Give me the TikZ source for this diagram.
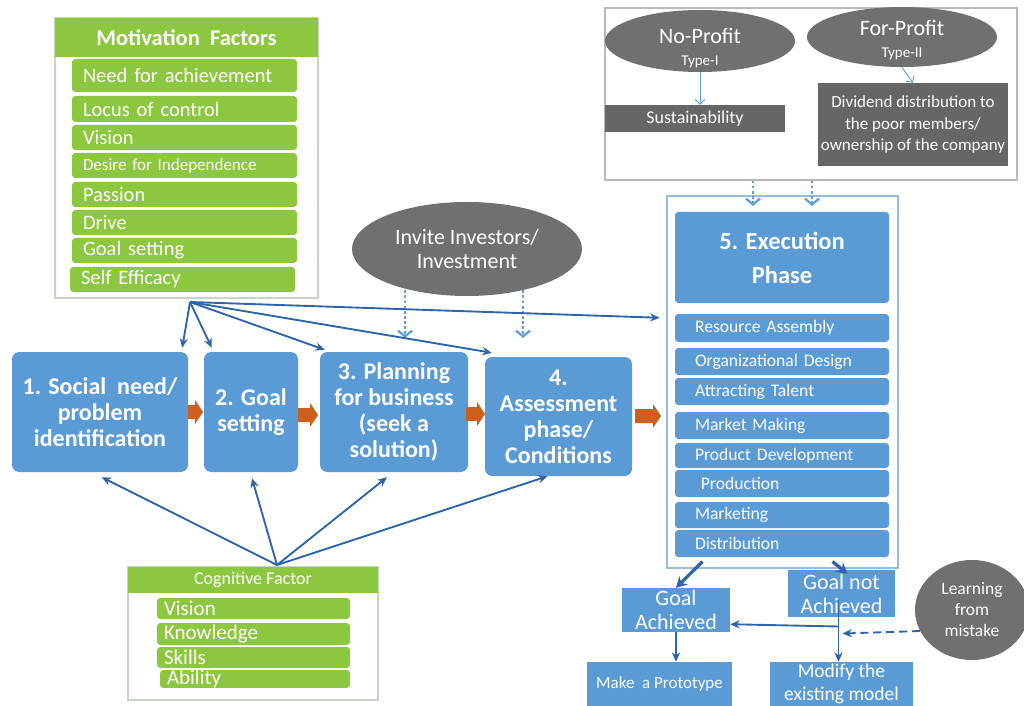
\documentclass[tikz,border=0pt]{standalone}
\usepackage{fontspec}
\setmainfont{Carlito}
\usetikzlibrary{arrows.meta,shapes.geometric,calc,backgrounds}
\definecolor{cblue}{RGB}{91,155,213}
\definecolor{cgreen}{RGB}{141,198,63}
\definecolor{cgray}{RGB}{112,112,112}
\definecolor{cdgray}{RGB}{102,102,102}
\definecolor{carrow}{RGB}{46,100,170}
\definecolor{corange}{RGB}{205,95,30}
\definecolor{cdot}{RGB}{100,160,215}
\definecolor{cgborder}{RGB}{200,212,195}
\definecolor{cbborder}{RGB}{155,187,220}
\definecolor{cgrborder}{RGB}{185,185,185}
\newdimen\pxu \pxu=0.03cm
\newdimen\tmpw
\newcommand\fs[2]{\fontsize{\fpeval{#1*0.8536}}{\fpeval{#2*0.8536}}\selectfont}
\newcommand\R[7]{\node[#1, minimum width={(#5-#3)*\pxu}, minimum height={(#6-#4)*\pxu}] (#2) at ({(#3+#5)/2},{(#4+#6)/2}) {#7};}
\newcommand\Li[8]{\pgfmathsetlength\tmpw{(#5-#3-2*#8)*\pxu}%
\node[#1, text width=\tmpw, align=left, minimum width={(#5-#3)*\pxu}, minimum height={(#6-#4)*\pxu}] (#2) at ({(#3+#5)/2},{(#4+#6)/2}) {#7};}
\newcommand\oarr[3]{\fill[corange] (#1,#3-7) -- (#2-8,#3-7) -- (#2-8,#3-12) -- (#2,#3) -- (#2-8,#3+12) -- (#2-8,#3+7) -- (#1,#3+7) -- cycle;}
\begin{document}
\begin{tikzpicture}[x=0.03cm,y=-0.03cm,
  every node/.style={text=white, inner sep=0pt},
  gouter/.style={draw=cgborder, line width=0.9pt, fill=white},
  bouter/.style={draw=cbborder, line width=0.9pt, fill=white},
  grouter/.style={draw=cgrborder, line width=0.9pt, fill=white},
  ghead/.style={fill=cgreen},
  mitem/.style={fill=cgreen, rounded corners=0.1cm},
  eitem/.style={fill=cblue, rounded corners=0.1cm},
  bbox/.style={fill=cblue, rounded corners=0.22cm, align=center},
  sbox/.style={fill=cblue, align=center},
  gbox/.style={fill=cdgray},
  gell/.style={ellipse, fill=cgray, align=center},
  conn/.style={draw=carrow, line width=1.6pt, -{Stealth[length=8pt,width=7pt]}},
  thickarr/.style={draw=carrow, line width=2.8pt, -{Stealth[length=9pt,width=10pt]}},
  thinarr/.style={draw=cdot, line width=0.8pt, -{Straight Barb[length=4pt,width=8pt]}},
  dotarr/.style={draw=cdot, line width=2.4pt, dotted, -{Straight Barb[length=5pt,width=12pt,line width=2pt]}}]
\useasboundingbox (0,0) rectangle (1024,706);
\begin{pgfonlayer}{background}
\fill[white] (0,0) rectangle (1024,706);
\end{pgfonlayer}
% Motivation factors
\R{gouter}{mfout}{55}{18}{318}{298}{}
\R{ghead,font=\fs{22.5}{26}\bfseries}{mfhead}{55}{18}{318}{57}{Motivation\ \ Factors}
\Li{mitem,font=\fs{20.5}{23}}{m1}{72}{59}{297}{92}{Need for achievement}{11}
\Li{mitem,font=\fs{20.5}{23}}{m2}{72}{96}{297}{122}{Locus of control}{11}
\Li{mitem,font=\fs{20.5}{23}}{m3}{72}{125}{297}{150}{Vision}{11}
\Li{mitem,font=\fs{17}{19}}{m4}{72}{153}{297}{178}{Desire for Independence}{11}
\Li{mitem,font=\fs{20.5}{23}}{m5}{72}{182}{297}{207}{Passion}{11}
\Li{mitem,font=\fs{20.5}{23}}{m6}{72}{210}{297}{235}{Drive}{11}
\Li{mitem,font=\fs{20.5}{23}}{m7}{72}{238}{297}{263}{Goal setting}{11}
\Li{mitem,font=\fs{20.5}{23}}{m8}{70}{267}{295}{292}{Self Efficacy}{11}
% Top right
\R{grouter}{trout}{605}{8}{1017}{180}{}
\node[gell, minimum width={190*\pxu}, minimum height={62*\pxu},
  label={[font=\fs{22}{22}, text=white, align=center, yshift=-0.2cm]center:No-Profit\\{\fs{15}{17}Type-I}}] (np) at (700,41) {};
\node[gell, minimum width={190*\pxu}, minimum height={60*\pxu},
  label={[font=\fs{22}{22}, text=white, align=center, yshift=-0.09cm]center:For-Profit\\{\fs{15}{17}Type-II}}] (fp) at (902,37) {};
\R{gbox,font=\fs{18}{20}}{sust}{605}{105}{785}{132}{Sustainability}
\R{gbox,font=\fs{17}{21.5},align=center}{div}{818}{83}{1008}{166}{Dividend distribution to\\the poor members/\\ownership of the company}
\draw[thinarr] (np.south) -- (np.south |- sust.north);
\draw[thinarr] (fp.south) -- (div.north);
% Execution
\R{bouter}{execout}{667}{196}{898}{568}{}
\R{eitem,font=\fs{24.5}{34}\bfseries,align=center}{exhead}{675}{212}{889}{303}{5. Execution\\Phase}
\Li{eitem,font=\fs{17.6}{19}}{e1}{675}{314}{889}{342}{Resource Assembly}{20}
\Li{eitem,font=\fs{17.6}{19}}{e2}{675}{348}{889}{375}{Organizational Design}{20}
\Li{eitem,font=\fs{17.6}{19}}{e3}{675}{378}{889}{405}{Attracting Talent}{20}
\Li{eitem,font=\fs{17.6}{19}}{e4}{675}{412}{889}{439}{Market Making}{20}
\Li{eitem,font=\fs{17.6}{19}}{e5}{675}{443}{889}{468}{Product Development}{20}
\Li{eitem,font=\fs{17.6}{19}}{e6}{675}{470}{889}{497}{\ Production}{20}
\Li{eitem,font=\fs{17.6}{19}}{e7}{675}{502}{889}{528}{Marketing}{20}
\Li{eitem,font=\fs{17.6}{19}}{e8}{675}{530}{889}{557}{Distribution}{20}
\coordinate (t1) at (753,206);
\coordinate (t2) at (812,206);
\draw[dotarr] (t1 |- trout.south) -- (t1);
\draw[dotarr] (t2 |- trout.south) -- (t2);
% Main boxes
\R{bbox,font=\fs{24}{26}\bfseries}{b1}{12}{352}{188}{472}{1. Social\ \ need/\\problem\\identification}
\R{bbox,font=\fs{24}{26}\bfseries}{b2}{204}{352}{298}{472}{2. Goal\\setting}
\R{bbox,font=\fs{24}{26}\bfseries}{b3}{320}{352}{468}{472}{3. Planning\\for business\\(seek a\\solution)}
\R{bbox,font=\fs{24}{26}\bfseries}{b4}{485}{357}{632}{476}{4.\\Assessment\\phase/\\Conditions}
\oarr{188}{203}{412}
\oarr{298}{318}{415}
\oarr{466}{485}{414}
\oarr{635}{661}{416}
% Invite
\node[gell, minimum width={230*\pxu}, minimum height={94*\pxu}, font=\fs{22}{24}] (inv) at (467,249) {Invite Investors/\\Investment};
\coordinate (d1) at (405,338);
\coordinate (d2) at (523,338);
\begin{pgfonlayer}{background}
\draw[dotarr] (d1 |- inv.center) -- (d1);
\draw[dotarr] (d2 |- inv.center) -- (d2);
\end{pgfonlayer}
% Cognitive
\R{gouter}{cgout}{128}{567}{378}{700}{}
\R{ghead,font=\fs{18}{20}}{cghead}{128}{567}{378}{593}{Cognitive Factor}
\Li{mitem,font=\fs{21}{22}}{c1}{157}{598}{350}{619}{Vision}{7}
\Li{mitem,font=\fs{21}{22}}{c2}{157}{623}{350}{645}{Knowledge}{7}
\Li{mitem,font=\fs{21}{22}}{c3}{157}{647}{350}{668}{Skills}{7}
\Li{mitem,font=\fs{21}{22}}{c4}{160}{671}{350}{687}{Ability}{7}
% Bottom right
\R{sbox,font=\fs{22}{24}}{ga}{622}{588}{730}{632}{Goal\\Achieved}
\R{sbox,font=\fs{22}{24}}{gna}{788}{570}{895}{617}{Goal not\\Achieved}
\R{sbox,font=\fs{17}{18}}{proto}{587}{662}{732}{706}{Make\ \ a Prototype}
\R{sbox,font=\fs{19.5}{23}}{mod}{770}{662}{913}{706}{Modify the\\existing model}
\node[gell, minimum width={114*\pxu}, minimum height={100*\pxu}, font=\fs{17.5}{21}] (learn) at (972,610) {Learning\\from\\mistake};
% Motivation fan
\coordinate (mfsrc) at (190,302);
\draw[conn] (mfsrc) -- ($(b1.north east)+(-6,-4)$);
\draw[conn] (mfsrc) -- ($(b2.north west)+(8,-4)$);
\draw[conn] (mfsrc) -- ($(b3.north west)+(5,-2)$);
\draw[conn] (mfsrc) -- ($(b4.north west)+(7,-4)$);
\draw[conn] (mfsrc) -- ($(execout.west |- e1.north)+(-7,4)$);
% Cognitive fan
\coordinate (cgsrc) at (277,565);
\draw[conn] (cgsrc) -- ($(b1.south west)+(90,5)$);
\draw[conn] (cgsrc) -- ($(b2.south)+(1,6)$);
\draw[conn] (cgsrc) -- ($(b3.south)+(-7,5)$);
\draw[conn] (cgsrc) -- ($(b4.south)+(-11,0)$);
% Bottom connectors
\draw[thickarr] ($(execout.south west)+(36,-7)$) -- (ga.north);
\draw[thickarr] ($(execout.south west)+(166,-7)$) -- ($(gna.north)+(6,4)$);
\draw[conn] (ga.south) -- (ga.south |- proto.north);
\coordinate (v1) at ($(gna.center)+(-3,6)$);
\draw[conn] (v1) -- (v1 |- mod.north);
\draw[conn] ($(v1)+(0,27)$) -- ($(ga.south east)+(0,-8)$);
\draw[conn, dash pattern=on 7pt off 4pt] (learn.202) -- ($(v1)+(4,34)$);
\end{tikzpicture}
\end{document}
